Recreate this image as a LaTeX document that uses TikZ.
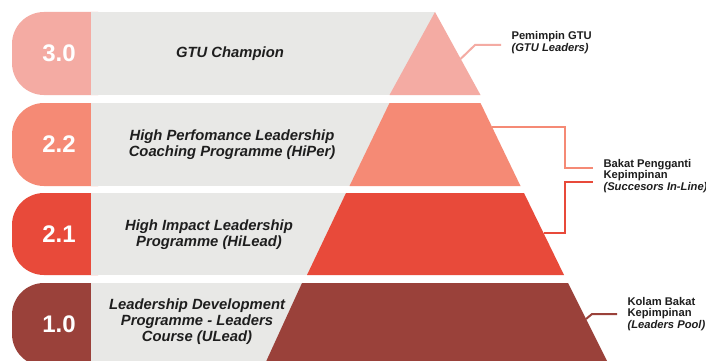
\documentclass[tikz,border=0pt]{standalone}
\usepackage{fontspec}
\setmainfont{Liberation Sans}
\definecolor{cA}{HTML}{F4ABA3}
\definecolor{cB}{HTML}{F58A75}
\definecolor{cC}{HTML}{E84A3A}
\definecolor{cD}{HTML}{9A413A}
\definecolor{bandgray}{HTML}{E8E8E6}
\definecolor{txt}{HTML}{1E1E1E}
\begin{document}
\begin{tikzpicture}[x=1pt,y=-1pt,
  num/.style={text=white,font=\fontsize{24}{28}\selectfont\bfseries},
  prog/.style={align=center,text=txt,font=\fontsize{14.8}{16}\selectfont\bfseries\itshape},
  lab/.style={align=left,anchor=west,text=txt,font=\fontsize{11.2}{11.5}\selectfont\bfseries},
  conn/.style={line width=2pt}]
\useasboundingbox (0,0) rectangle (706,361);
\clip (0,0) rectangle (706,361);
\fill[white] (0,0) rectangle (706,361);
% band 1
\fill[cA, rounded corners=32pt] (12,12) rectangle (130,95);
\fill[bandgray] (91,12) rectangle (435,95);
\fill[cA] (435,12) -- (480.5,95) -- (389.5,95) -- cycle;
% band 2
\fill[cB, rounded corners=32pt] (12,103) rectangle (130,186);
\fill[bandgray] (91,103) rectangle (435,186);
\fill[cB] (389.5,103) -- (480.5,103) -- (520.5,186) -- (349.5,186) -- cycle;
% band 3
\fill[cC, rounded corners=32pt] (12,193) rectangle (130,275);
\fill[bandgray] (91,193) rectangle (435,275);
\fill[cC] (346,193) -- (524,193) -- (564,275) -- (307,275) -- cycle;
% band 4
\fill[cD, rounded corners=32pt] (12,283) rectangle (130,366);
\fill[bandgray] (91,283) rectangle (435,366);
\fill[cD] (302,283) -- (568,283) -- (609.5,366) -- (264,366) -- cycle;
% numbers
\node[num] (n30) at (59,53.5) {3.0};
\node[num] (n22) at (59,144.5) {2.2};
\node[num] (n21) at (59,234.5) {2.1};
\node[num] (n10) at (59,324.5) {1.0};
% programme texts
\node[prog] (t30) at (230,53.5) {GTU Champion};
\node[prog] (t22) at (232,145) {High Perfomance Leadership\\Coaching Programme (HiPer)};
\node[prog] (t21) at (209,235) {High Impact Leadership\\Programme (HiLead)};
\node[prog] (t10) at (197,322) {Leadership Development\\Programme - Leaders\\Course (ULead)};
% right labels
\node[lab] (l1) at (508,42.5) {Pemimpin GTU\\\itshape(GTU Leaders)};
\node[lab] (l2) at (600,176) {Bakat Pengganti\\Kepimpinan\\\itshape(Succesors In-Line)};
\node[lab] (l3) at (624,314) {Kolam Bakat\\Kepimpinan\\\itshape(Leaders Pool)};
% connectors
\coordinate (a1) at (460.5,59);
\coordinate (a2) at (475,45);
\coordinate (a3) at (501,45);
\draw[conn,cA] (a1) -- (a2) -- (a3);
\coordinate (b1) at (492,127);
\coordinate (b2) at (565,127);
\coordinate (b3) at (565,168);
\coordinate (b4) at (593,168);
\draw[conn,cB] (b1) -- (b2) -- (b3) -- (b4);
\coordinate (c1) at (544,233);
\coordinate (c2) at (565,233);
\coordinate (c3) at (565,182);
\coordinate (c4) at (593,182);
\draw[conn,cC] (c1) -- (c2) -- (c3) -- (c4);
\coordinate (d1) at (586,319);
\coordinate (d2) at (592,314);
\coordinate (d3) at (617,314);
\draw[conn,cD] (d1) -- (d2) -- (d3);
\end{tikzpicture}
\end{document}
